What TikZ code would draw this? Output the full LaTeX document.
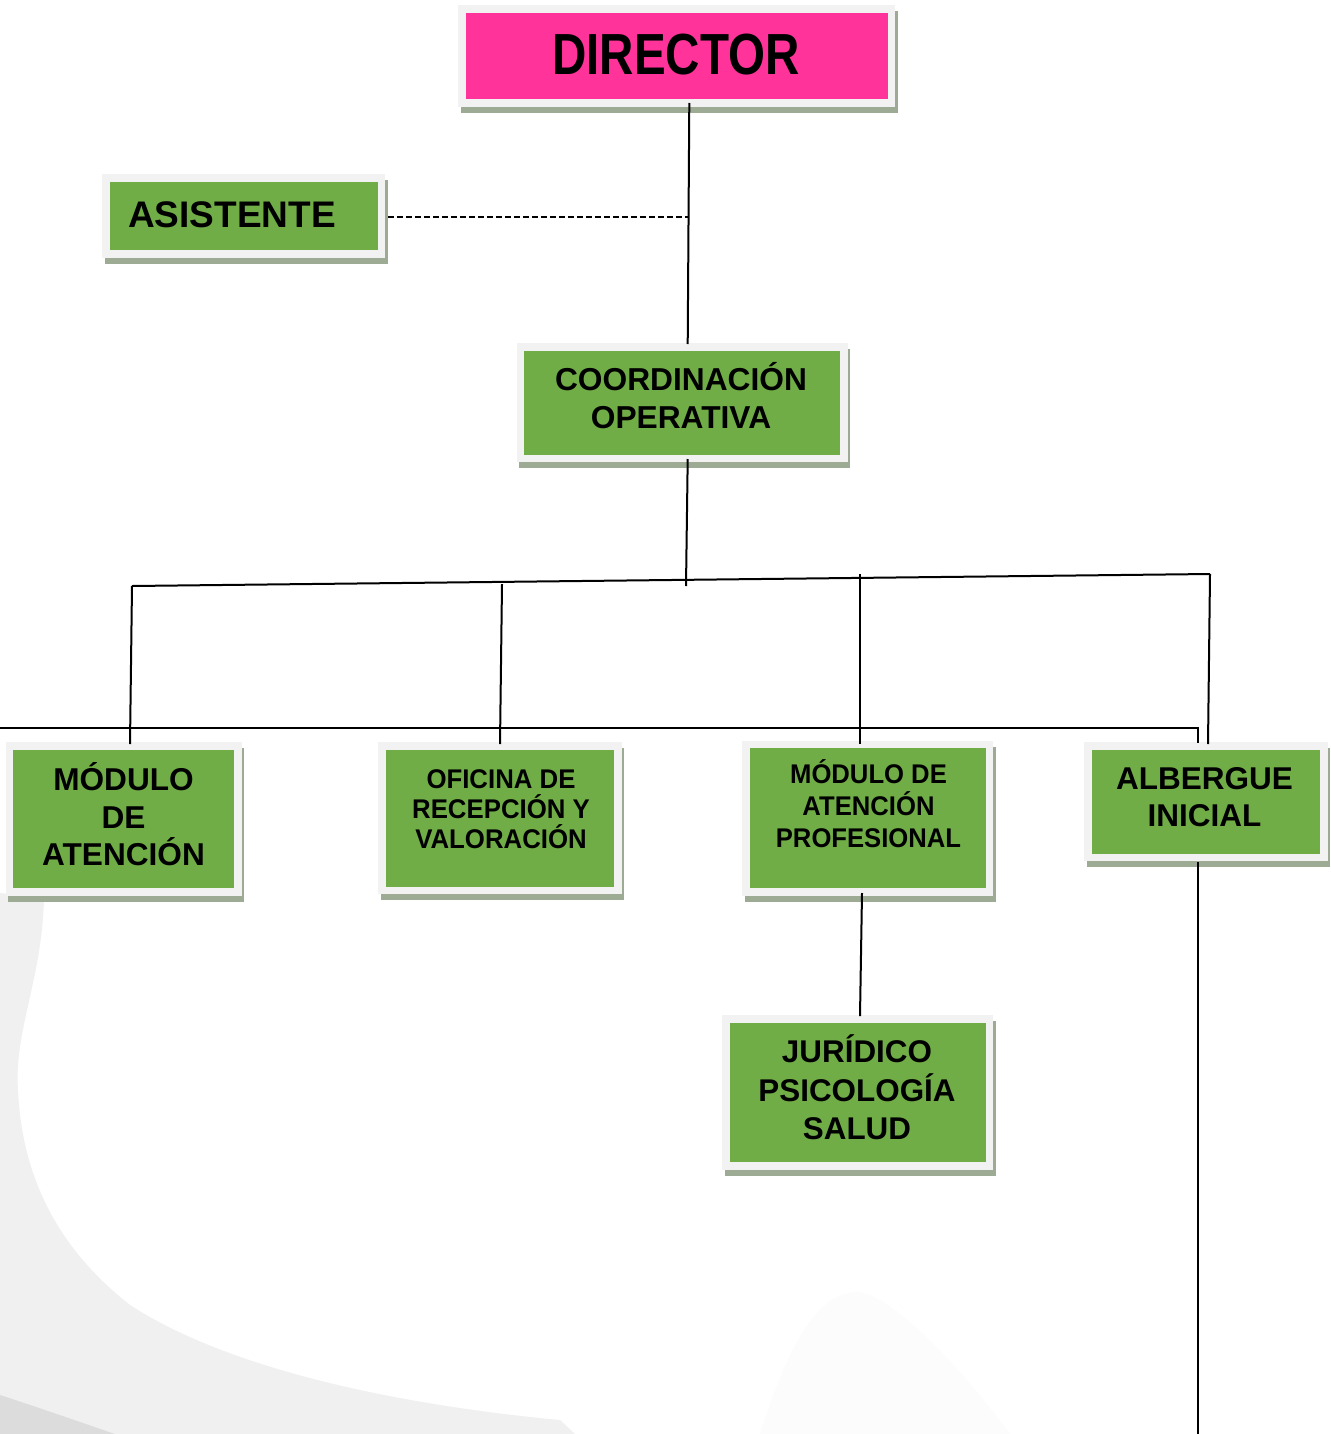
\documentclass[tikz,border=0pt]{standalone}
\usepackage{fontspec}
\setmainfont{Liberation Sans}
\usepackage{graphicx}
\definecolor{pinkc}{HTML}{FF3399}
\definecolor{greenc}{HTML}{70AD47}
\definecolor{framec}{HTML}{F2F2F2}
\definecolor{shadowc}{HTML}{9DAB94}
\definecolor{bgA}{HTML}{F0F0F0}
\definecolor{bgB}{HTML}{DCDCDC}
\definecolor{bgC}{HTML}{FCFCFC}
\newcommand{\bt}[4]{\scalebox{#3}[1]{\fontsize{#1}{#2}\selectfont\bfseries\vtop{\halign{\hfil##\hfil\cr#4\crcr}}}}
\begin{document}
\begin{tikzpicture}[x=0.5pt,y=-0.5pt,
  orgbox/.style={rectangle, draw=framec, line width=3.75pt, inner sep=0pt, outer sep=0pt,
    preaction={draw=shadowc, fill=shadowc, line width=3.75pt, transform canvas={shift={(2.5,6)}}}},
  gbox/.style={orgbox, fill=greenc},
  pbox/.style={orgbox, fill=pinkc},
  lbl/.style={anchor=base, inner sep=0pt, outer sep=0pt, text=black},
  conn/.style={line width=1pt, draw=black},
  dconn/.style={line width=0.8pt, draw=black, dash pattern=on 3.2pt off 1.3pt},
]
\fill[white] (0,0) rectangle (1330,1434);
\useasboundingbox (0,0) rectangle (1330,1434);
% background swoosh
\fill[bgA] (0,893) -- (44,898) .. controls (42,980) and (14,1030) .. (18,1090)
  .. controls (22,1180) and (60,1250) .. (130,1305)
  .. controls (230,1370) and (400,1405) .. (560,1420) -- (575,1434) -- (0,1434) -- cycle;
\fill[bgB] (0,1395) .. controls (40,1408) and (80,1422) .. (115,1434) -- (0,1434) -- cycle;
\fill[bgC] (760,1434) .. controls (790,1340) and (820,1290) .. (860,1292)
  .. controls (900,1300) and (970,1380) .. (1010,1434) -- cycle;

% boxes
\node[pbox, minimum width=214.75pt, minimum height=47pt] (dir) at (676.75,56) {};
\node[gbox, minimum width=137.55pt, minimum height=37.9pt] (asis) at (243.75,215.9) {};
\node[gbox, minimum width=161.85pt, minimum height=55.65pt] (coord) at (682.3,402.8) {};
\node[gbox, minimum width=114.05pt, minimum height=72.9pt] (mod) at (123.75,819.1) {};
\node[gbox, minimum width=117.9pt, minimum height=72.1pt] (ofi) at (500.1,818.3) {};
\node[gbox, minimum width=121.75pt, minimum height=73.65pt] (map) at (867.9,818.3) {};
\node[gbox, minimum width=118pt, minimum height=55.85pt] (alb) at (1206.2,801.7) {};
\node[gbox, minimum width=131.65pt, minimum height=73.7pt] (jur) at (857.8,1092.5) {};

% texts
\node[lbl] (dir-t) at (676,75) {\bt{29}{34}{0.82}{DIRECTOR}};
\node[lbl] (asis-t) at (232,227.7) {\bt{18.5}{22}{1}{ASISTENTE}};
\node[lbl] (coord-t) at (681,390) {\bt{15.85}{19.15}{1}{COORDINACIÓN\cr OPERATIVA}};
\node[lbl] (mod-t) at (123.5,790.7) {\bt{15.8}{18.75}{1}{MÓDULO\cr DE\cr ATENCIÓN}};
\node[lbl] (ofi-t) at (501,788.3) {\bt{13.5}{15}{0.955}{OFICINA DE\cr RECEPCIÓN Y\cr VALORACIÓN}};
\node[lbl] (map-t) at (868.5,783.3) {\bt{13.5}{16}{0.95}{MÓDULO DE\cr ATENCIÓN\cr PROFESIONAL}};
\node[lbl] (alb-t) at (1204.5,789) {\bt{15.75}{18.85}{1}{ALBERGUE\cr INICIAL}};
\node[lbl] (jur-t) at (857,1062.3) {\bt{15.7}{19.4}{1}{JURÍDICO\cr PSICOLOGÍA\cr SALUD}};

% connector coordinates
\coordinate (d1) at (689.3,103);
\coordinate (c1) at (687.7,344);
\coordinate (dj) at (688.5,217);
\coordinate (aj) at (388,217);
\coordinate (c2) at (687.7,459);
\coordinate (bm) at (686,586);
\coordinate (bl) at (132,586);
\coordinate (br) at (1210,574);
\coordinate (v1b) at (130,744);
\coordinate (v2t) at (502,584);
\coordinate (v2b) at (500,744);
\coordinate (v3t) at (860,574);
\coordinate (v3b) at (860,744);
\coordinate (v4b) at (1208,744);
\coordinate (l0) at (0,728);
\coordinate (l1) at (1198,728);
\coordinate (l2) at (1198,743);
\coordinate (a1) at (1198,862);
\coordinate (a2) at (1198,1434);
\coordinate (m1) at (862,893);
\coordinate (j1) at (860,1016);

% connectors
\draw[conn] (d1) -- (c1);
\draw[dconn] (aj) -- (dj);
\draw[conn] (c2) -- (bm);
\draw[conn] (bl) -- (br);
\draw[conn] (bl) -- (v1b);
\draw[conn] (v2t) -- (v2b);
\draw[conn] (v3t) -- (v3b);
\draw[conn] (br) -- (v4b);
\draw[conn] (l0) -- (l1) -- (l2);
\draw[conn] (a1) -- (a2);
\draw[conn] (m1) -- (j1);
\end{tikzpicture}
\end{document}
